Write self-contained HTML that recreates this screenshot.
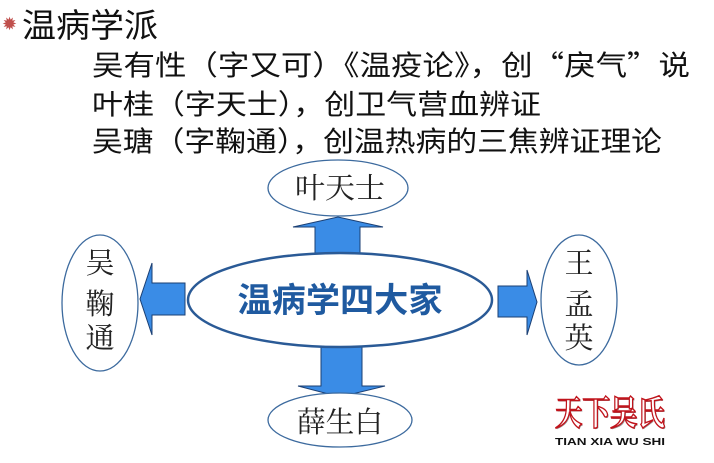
<!DOCTYPE html>
<html><head><meta charset="utf-8"><style>
html,body{margin:0;padding:0;background:#fff;}
svg{display:block;}
</style></head><body>
<svg width="714" height="463" viewBox="0 0 714 463" xmlns="http://www.w3.org/2000/svg">
<rect width="714" height="463" fill="#fff"/>
<text x="2" y="30" font-family="DejaVu Sans, sans-serif" font-size="18" fill="#c0504d">✹</text>
<text x="22" y="37" font-family="'Liberation Sans','Noto Sans CJK SC',sans-serif" font-size="33" fill="#111" textLength="136" lengthAdjust="spacingAndGlyphs">温病学派</text>
<g font-family="'Noto Sans CJK SC',sans-serif" font-size="28" fill="#111">
<text x="92" y="75" textLength="598" lengthAdjust="spacingAndGlyphs">吴有性（字又可）《温疫论》，创“戾气”说</text>
<text x="92" y="114" textLength="449" lengthAdjust="spacingAndGlyphs">叶桂（字天士），创卫气营血辨证</text>
<text x="92" y="151" textLength="570" lengthAdjust="spacingAndGlyphs">吴瑭（字鞠通），创温热病的三焦辨证理论</text>
</g>
<g fill="#3a8ce6" stroke="#1b3f73" stroke-width="1">
<polygon points="315,253 315,227 293,227 338,217 383,227 360,227 360,253"/>
<polygon points="321,347 362,347 362,386 385,386 340,397 298,386 321,386"/>
<polygon points="185,283 152,283 152,263 140,299 152,335 152,315 185,315"/>
<polygon points="498,286 527,286 527,270 537,302 527,335 527,317 498,317"/>
</g>
<g fill="#fff" stroke="#3c6a9e" stroke-width="1.3">
<ellipse cx="338" cy="188" rx="70" ry="28"/>
<ellipse cx="340" cy="420" rx="72" ry="27"/>
<ellipse cx="100" cy="303" rx="38" ry="68"/>
<ellipse cx="579" cy="300" rx="38" ry="65"/>
</g>
<ellipse cx="340" cy="300" rx="152" ry="47" fill="#fff" stroke="#2a5a96" stroke-width="2.5"/>
<text x="340" y="312" text-anchor="middle" font-family="'Noto Sans CJK SC',sans-serif" font-weight="bold" font-size="34" fill="#1f5aa0" textLength="205" lengthAdjust="spacingAndGlyphs">温病学四大家</text>
<g font-family="'Noto Serif CJK SC',serif" font-size="29" fill="#222" text-anchor="middle">
<text x="340" y="198" textLength="90" lengthAdjust="spacingAndGlyphs">叶天士</text>
<text x="340" y="432" textLength="86" lengthAdjust="spacingAndGlyphs">薛生白</text>
<text x="100" y="273">吴</text>
<text x="100" y="314">鞠</text>
<text x="100" y="348">通</text>
<text x="579" y="273">王</text>
<text x="579" y="314">孟</text>
<text x="579" y="348">英</text>
</g>
<text x="611" y="426" text-anchor="middle" font-family="'Noto Serif CJK SC',serif" font-size="34" font-weight="bold" fill="#333" opacity="0.5" textLength="110" lengthAdjust="spacingAndGlyphs">天下吴氏</text>
<text x="610" y="425" text-anchor="middle" font-family="'Noto Serif CJK SC',serif" font-size="34" font-weight="bold" fill="#fff" stroke="#c0141c" stroke-width="1.5" textLength="110" lengthAdjust="spacingAndGlyphs">天下吴氏</text>
<text x="610" y="445" text-anchor="middle" font-family="'Liberation Sans',sans-serif" font-weight="bold" font-size="10" fill="#111" textLength="110" lengthAdjust="spacingAndGlyphs">TIAN XIA WU SHI</text>
</svg>
</body></html>
